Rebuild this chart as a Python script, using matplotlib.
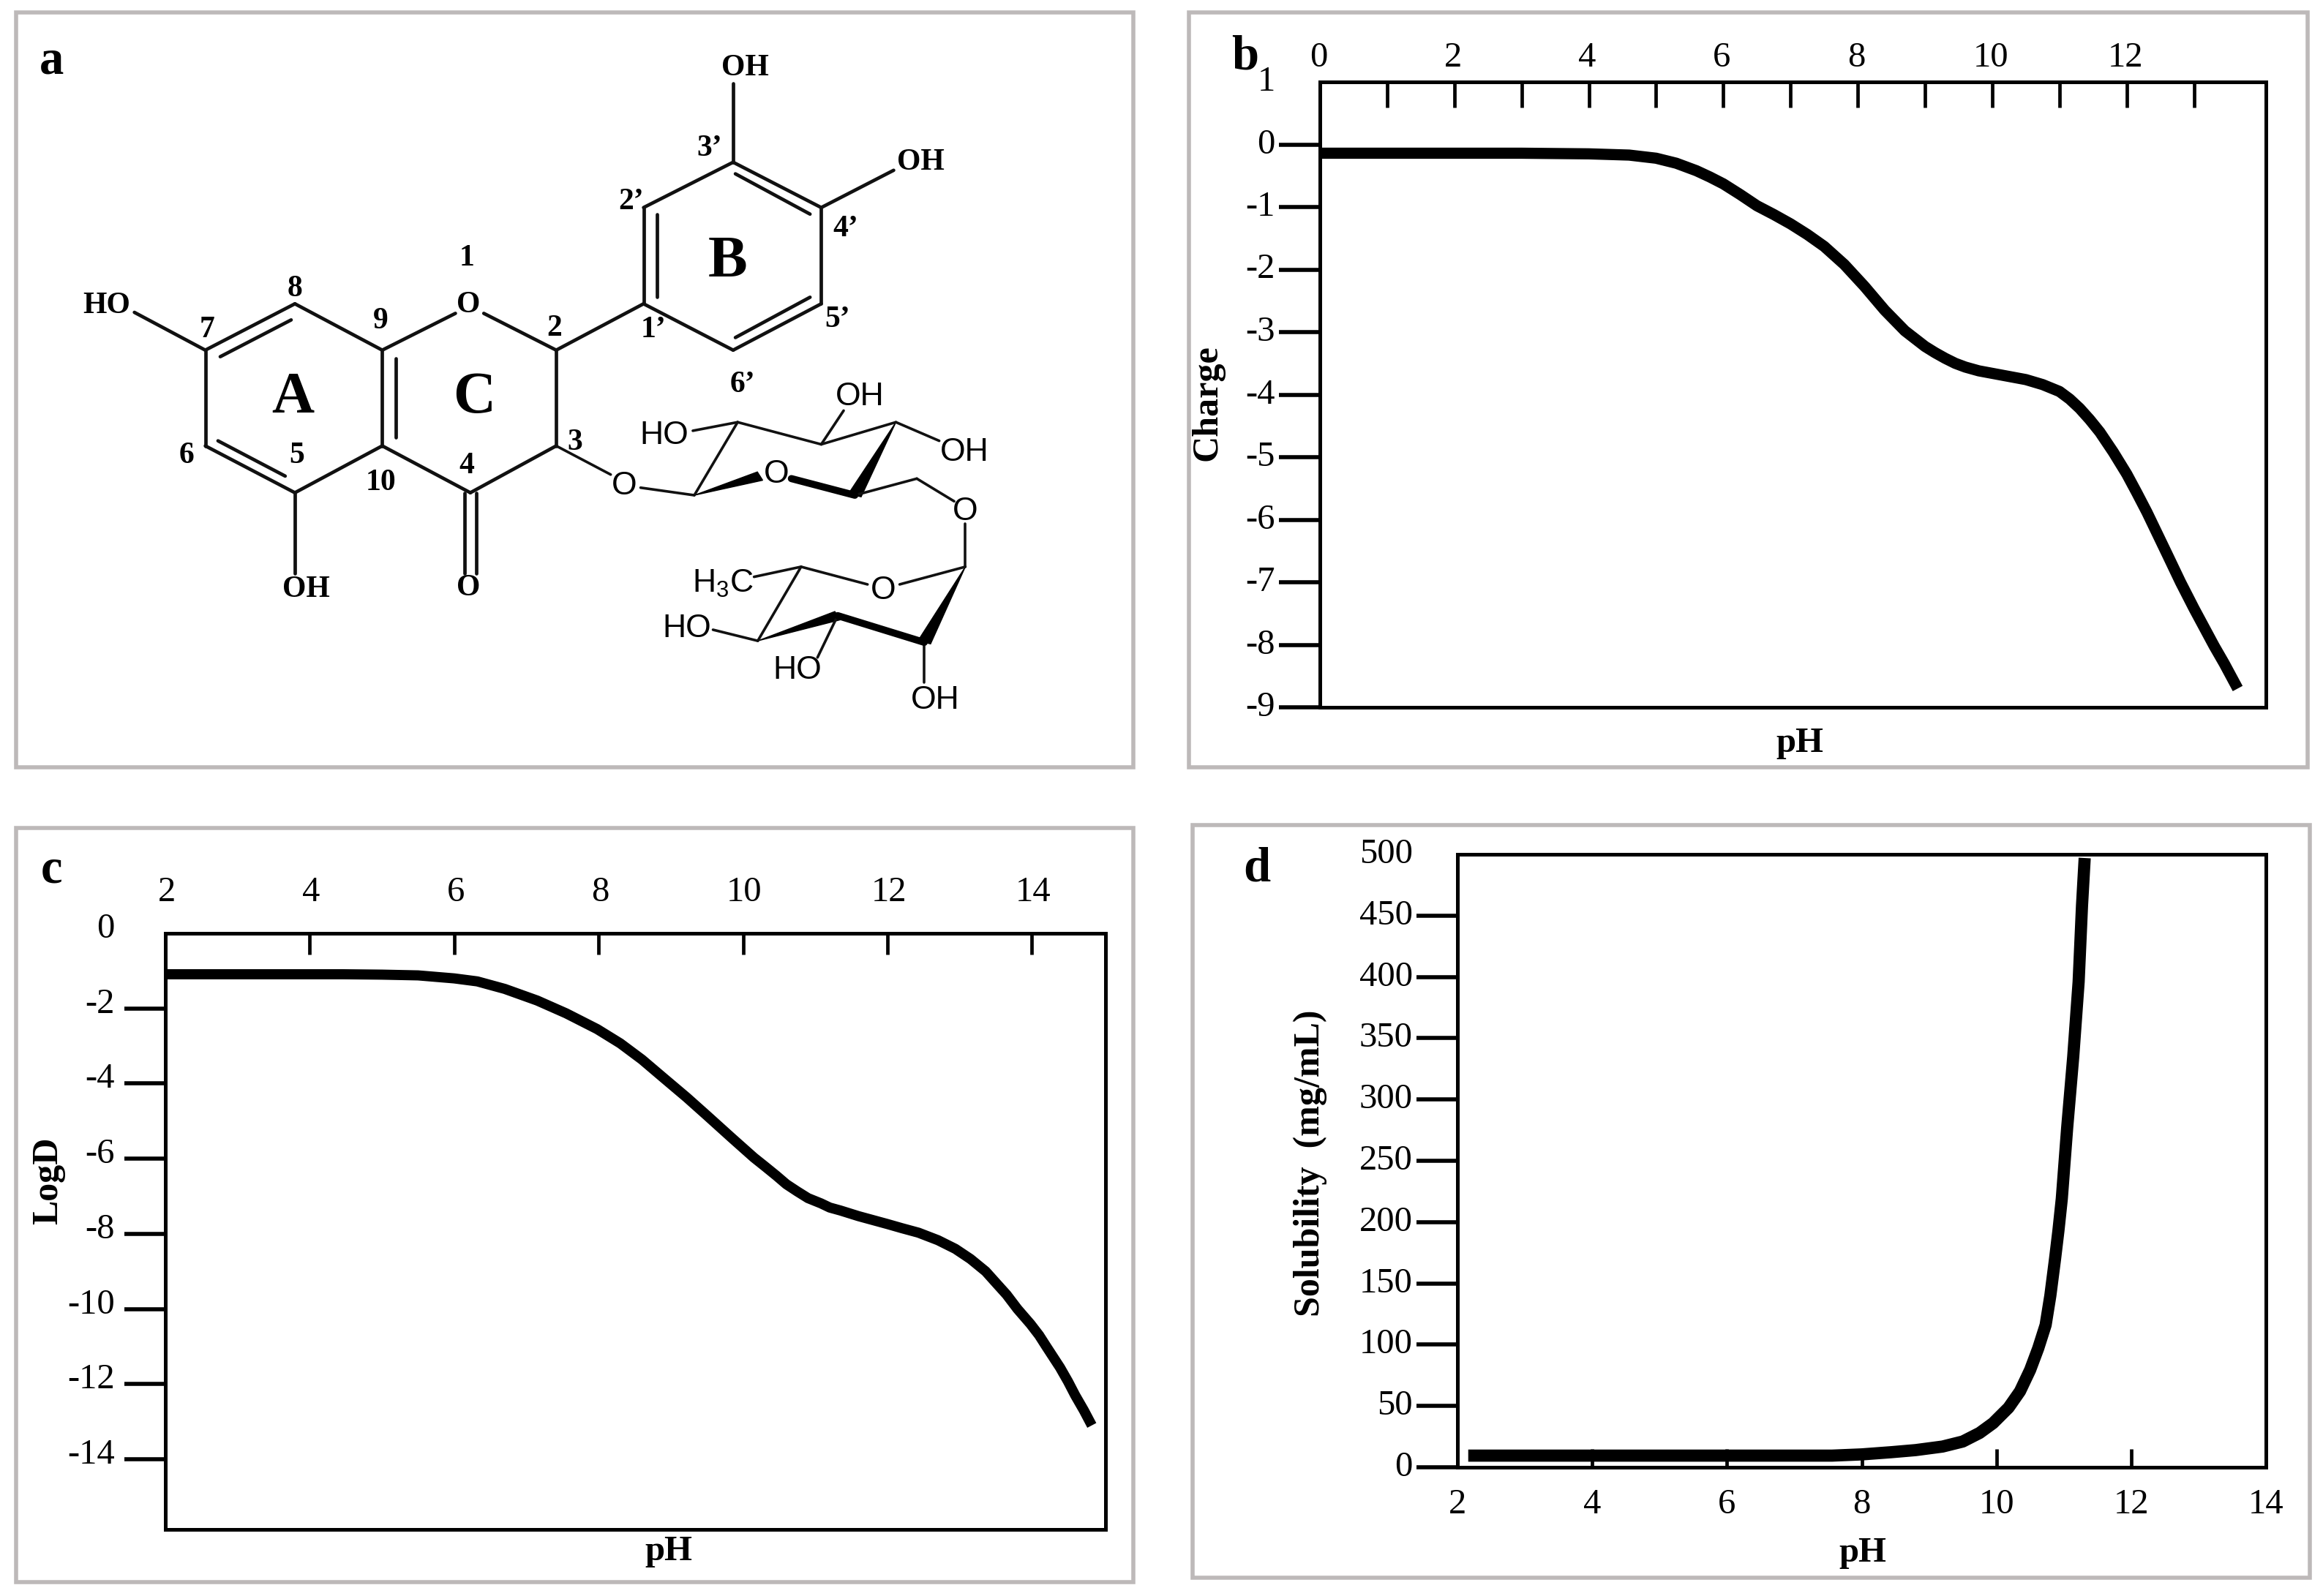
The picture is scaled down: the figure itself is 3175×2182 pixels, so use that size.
import matplotlib
matplotlib.use('Agg')
import matplotlib.pyplot as plt
from matplotlib.patches import Rectangle, Polygon
from matplotlib.transforms import ScaledTranslation

W, H = 3175, 2182
SERIF = 'Liberation Serif'
SANS = 'Liberation Sans'
plt.rcParams['font.family'] = SERIF
plt.rcParams['axes.unicode_minus'] = False
plt.rcParams['mathtext.fontset'] = 'custom'
plt.rcParams['mathtext.rm'] = SANS

# panel b, charge
ph_b = [0.02, 1, 2, 3, 4, 4.6, 5.0, 5.3, 5.6, 5.8, 6.0, 6.25, 6.5, 6.75, 7.0, 7.25, 7.5, 7.8, 8.1, 8.4, 8.7, 9.0,
        9.15, 9.3, 9.45, 9.6, 9.8, 10.0, 10.5, 10.75, 11.0, 11.15, 11.3, 11.45, 11.6, 11.8, 12.0, 12.15, 12.3,
        12.6, 12.8, 13.0, 13.15, 13.3, 13.45, 13.65]
charge = [-0.14, -0.14, -0.14, -0.14, -0.15, -0.17, -0.22, -0.30, -0.42, -0.52, -0.63, -0.80, -0.98, -1.12, -1.27,
          -1.44, -1.63, -1.92, -2.27, -2.65, -2.98, -3.23, -3.33, -3.42, -3.50, -3.56, -3.62, -3.66, -3.76, -3.84,
          -3.95, -4.07, -4.22, -4.40, -4.6, -4.92, -5.27, -5.57, -5.88, -6.55, -7.0, -7.42, -7.72, -8.02, -8.3, -8.7]

# panel c, logD
ph_c = [2, 3, 4.46, 5.0, 5.5, 6.0, 6.32, 6.7, 7.15, 7.55, 7.98, 8.3, 8.6, 8.9, 9.22, 9.5, 9.84, 10.15, 10.3, 10.46,
        10.6, 10.75, 10.9, 11.08, 11.2, 11.35, 11.6, 12.0, 12.2, 12.43, 12.7, 12.94, 13.15, 13.36, 13.5, 13.65,
        13.8, 13.98, 14.1, 14.2, 14.39, 14.5, 14.6, 14.72, 14.83]
logd = [-1.09, -1.09, -1.09, -1.10, -1.12, -1.20, -1.28, -1.48, -1.79, -2.13, -2.55, -2.93, -3.36, -3.85, -4.37,
        -4.85, -5.44, -5.97, -6.20, -6.45, -6.68, -6.87, -7.05, -7.19, -7.30, -7.38, -7.53, -7.74, -7.85, -7.97,
        -8.17, -8.4, -8.67, -9.0, -9.3, -9.62, -10.0, -10.4, -10.7, -11.0, -11.56, -11.93, -12.3, -12.7, -13.1]

# panel d, solubility
ph_d = [2.16, 4, 6, 7.56, 8.0, 8.44, 8.8, 9.2, 9.5, 9.75, 9.95, 10.18, 10.35, 10.5, 10.62, 10.73, 10.8, 10.87, 10.92,
        10.97, 11.05, 11.14, 11.22, 11.27, 11.31]
solubility = [9.5, 9.5, 9.5, 9.5, 10.5, 12.3, 14, 16.9, 21, 28, 36, 48.6, 62, 79.4, 97, 116, 140, 170, 193,
              219, 277, 335, 396, 458, 497]

# molecule in panel a
plain_bonds = [
    (275, 695, 395, 603), (395, 603, 512, 695), (512, 695, 512, 885), (512, 885, 395, 978),
    (395, 978, 275, 885), (275, 885, 275, 695), (295, 708, 390, 635), (530, 712, 530, 868),
    (292, 875, 382, 945), (512, 695, 610, 622), (648, 622, 745, 695), (745, 695, 745, 885),
    (745, 885, 630, 978), (630, 978, 512, 885), (622, 978, 622, 1138), (638, 978, 638, 1138),
    (745, 695, 862, 603), (862, 603, 862, 412), (862, 412, 982, 322), (982, 322, 1100, 412),
    (1100, 412, 1100, 603), (1100, 603, 982, 695), (982, 695, 862, 603), (880, 425, 880, 590),
    (985, 345, 1085, 425), (985, 670, 1085, 590), (982, 322, 982, 165), (1100, 412, 1197, 338),
    (275, 695, 180, 620), (395, 978, 395, 1138),
]
sugar_bonds = [
    (745, 885, 818, 942), (858, 968, 930, 983), (1200, 838, 1100, 882), (1100, 882, 988, 838),
    (988, 838, 930, 983), (988, 838, 928, 855), (1100, 882, 1130, 815), (1200, 838, 1258, 875),
    (1145, 983, 1228, 950), (1228, 950, 1278, 995), (1293, 1040, 1293, 1125), (1293, 1125, 1205, 1160),
    (1162, 1160, 1073, 1125), (1073, 1125, 1015, 1272), (1073, 1125, 1010, 1145), (1015, 1272, 955, 1250),
    (1122, 1222, 1095, 1305), (1238, 1275, 1238, 1355),
]
thick_bonds = [(1060, 950, 1145, 983), (1122, 1222, 1238, 1275)]
wedges = [
    (930, 983, 1018, 945), (1200, 838, 1145, 983), (1015, 1272, 1122, 1222), (1293, 1125, 1238, 1275),
]
ring_numbers = [
    ('1', 625, 512), ('2', 742, 652), ('3', 770, 878), ('4', 625, 925), ('5', 398, 905), ('6', 250, 905),
    ('7', 277, 655), ('8', 395, 573), ('9', 510, 638), ('10', 510, 958), ('1’', 875, 655), ('2’', 845, 400),
    ('3’', 950, 295), ('4’', 1133, 455), ('5’', 1122, 635), ('6’', 995, 763),
]
serif_atoms = [
    ('OH', 998, 135), ('OH', 1233, 323), ('HO', 143, 607), ('OH', 410, 1170), ('O', 627, 605), ('O', 627, 1168),
]
sans_atoms = [
    ('O', 836, 965), ('O', 1040, 942), ('O', 1293, 1015), ('O', 1183, 1172), ('HO', 890, 865), ('OH', 1152, 787),
    ('OH', 1292, 898), (r'$\mathrm{H_3C}$', 968, 1158), ('HO', 920, 1248), ('HO', 1068, 1330), ('OH', 1253, 1390),
]
ring_letters = [('A', 392, 790), ('B', 975, 520), ('C', 635, 790)]


def px_axes(fig, left, top, right, bottom):
    return fig.add_axes([left / W, 1 - bottom / H, (right - left) / W, (bottom - top) / H])


def shift_labels(labels, dx, dy):
    # the labels in the picture do not sit level with their ticks
    for label in labels:
        label.set_transform(label.get_transform() + ScaledTranslation(dx / 100, dy / 100, fig.dpi_scale_trans))


def style_panel(ax, xlim, ylim, xticks, yticks, top_axis, ticklen, xlabel_at, ylabel_at, ylabel):
    ax.set_xlim(*xlim)
    ax.set_ylim(*ylim)
    ax.set_xticks(xticks)
    ax.set_yticks(yticks)
    for spine in ax.spines.values():
        spine.set_linewidth(3.6)
    ax.tick_params(axis='y', direction='out', length=40, width=4, pad=4, labelsize=35)
    ax.tick_params(axis='x', direction='in', length=ticklen, width=3.4, labelsize=35,
                   top=top_axis, bottom=not top_axis, labeltop=top_axis, labelbottom=not top_axis,
                   pad=21 if not top_axis else 19)
    ax.set_xlabel('pH', fontsize=35, fontweight='bold', va='center')
    ax.xaxis.set_label_coords(*xlabel_at)
    ax.set_ylabel(ylabel, fontsize=36, fontweight='bold', va='center')
    ax.yaxis.set_label_coords(*ylabel_at)


fig = plt.figure(figsize=(W / 100, H / 100), dpi=100)

# grey frames and panel letters
bg = fig.add_axes([0, 0, 1, 1])
bg.set_xlim(0, W)
bg.set_ylim(H, 0)
bg.axis('off')
for x0, y0, x1, y1 in [(22, 17, 1549, 1049), (1625, 17, 3154, 1049), (22, 1132, 1549, 2163), (1630, 1128, 3157, 2157)]:
    bg.add_patch(Rectangle((x0, y0), x1 - x0, y1 - y0, fill=False, edgecolor='#bdb9b9', linewidth=4))
for letter, x, y in [('a', 71, 84), ('b', 1702, 78), ('c', 70, 1190), ('d', 1718, 1188)]:
    bg.text(x, y, letter, fontsize=48, fontweight='bold', ha='center', va='center')

# panel a
mol = px_axes(fig, 0, 0, 1600, 1080)
mol.set_xlim(0, 1568)
mol.set_ylim(1568, 0)
mol.axis('off')
mol.patch.set_alpha(0)
for x0, y0, x1, y1 in plain_bonds:
    mol.plot([x0, x1], [y0, y1], color='#111111', linewidth=3.4, solid_capstyle='round')
for x0, y0, x1, y1 in sugar_bonds:
    mol.plot([x0, x1], [y0, y1], color='#111111', linewidth=2.6, solid_capstyle='round')
for x0, y0, x1, y1 in thick_bonds:
    mol.plot([x0, x1], [y0, y1], color='black', linewidth=7, solid_capstyle='round')
for x0, y0, x1, y1 in wedges:
    dx, dy = x1 - x0, y1 - y0
    size = (dx ** 2 + dy ** 2) ** 0.5
    nx, ny = -dy / size * 9, dx / size * 9
    mol.add_patch(Polygon([(x0, y0), (x1 + nx, y1 + ny), (x1 - nx, y1 - ny)], color='black'))
for text, x, y in ring_numbers:
    mol.text(x, y, text, fontsize=30, fontweight='bold', ha='center', va='center')
for text, x, y in serif_atoms:
    mol.text(x, y, text, fontsize=30, fontweight='bold', ha='center', va='center')
for text, x, y in sans_atoms:
    mol.text(x, y, text, fontsize=32, family=SANS, ha='center', va='center')
for text, x, y in ring_letters:
    mol.text(x, y, text, fontsize=58, fontweight='bold', ha='center', va='center')

# panel b
ax_b = px_axes(fig, 1804, 112, 3097, 967)
style_panel(ax_b, (0, 14.07), (-9, 1), range(0, 14), range(-9, 2), True, 25, (0.507, -0.057), (-0.119, 0.487), 'Charge')
ax_b.set_xticklabels(['0', '', '2', '', '4', '', '6', '', '8', '', '10', '', '12', ''])
ax_b.yaxis.get_major_ticks()[-1].tick1line.set_visible(False)
ax_b.plot(ph_b, charge, color='black', linewidth=11, solid_capstyle='butt')
shift_labels(ax_b.get_yticklabels(), 0, 5)
shift_labels(ax_b.get_xticklabels(), -2, -15)

# panel c
ax_c = px_axes(fig, 226, 1276, 1511, 2091)
style_panel(ax_c, (2, 15.02), (-15.87, 0), range(2, 16, 2), range(-14, 1, 2), True, 21, (0.535, -0.037), (-0.1245, 0.585), 'LogD')
ax_c.yaxis.get_major_ticks()[-1].tick1line.set_visible(False)
ax_c.plot(ph_c, logd, color='black', linewidth=10, solid_capstyle='butt')
shift_labels(ax_c.get_yticklabels(), -8, 11)
shift_labels(ax_c.get_xticklabels(), 2, 8)

# panel d
ax_d = px_axes(fig, 1992, 1168, 3097, 2006)
style_panel(ax_d, (2, 14), (0, 500), range(2, 16, 2), range(0, 501, 50), False, 18, (0.501, -0.14), (-0.182, 0.496), 'Solubility  (mg/mL)')
ax_d.yaxis.get_major_ticks()[-1].tick1line.set_visible(False)
ax_d.plot(ph_d, solubility, color='black', linewidth=12, solid_capstyle='butt')
shift_labels(ax_d.get_yticklabels(), 0, 5)

fig.savefig('out.png', dpi=100)
